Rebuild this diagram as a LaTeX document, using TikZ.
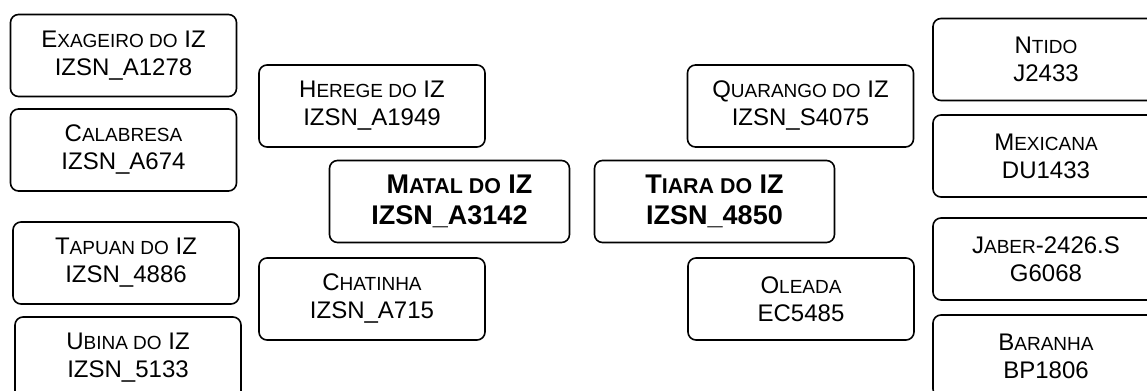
\documentclass[tikz,border=0pt]{standalone}
\usepackage{fontspec}
\setmainfont{Liberation Sans}
\newcommand{\scf}{\fontsize{9.5}{12}\selectfont}
\newcommand{\scb}{\fontsize{10.7}{13}\selectfont}
\begin{document}
\begin{tikzpicture}[x=0.5pt, y=0.5pt,
 font=\fontsize{12}{14}\selectfont,
 breed/.style={draw, line width=0.8pt, rounded corners=4pt, align=center,
 minimum width=113pt, minimum height=41pt, inner sep=1pt, outer sep=0pt},
 main/.style={breed, minimum width=120pt, font=\fontsize{13.5}{15.5}\selectfont\bfseries}]
 \useasboundingbox (0,0) rectangle (1147,391);
 \clip (0,0) rectangle (1147,391);
 \node[breed] (exageiro) at (123.5,335.5) {E{\scf XAGEIRO DO} IZ\\IZSN\_A1278};
 \node[breed] (calabresa) at (123.5,241) {C{\scf ALABRESA}\\IZSN\_A674};
 \node[breed] (tapuan) at (126,128) {T{\scf APUAN DO} IZ\\IZSN\_4886};
 \node[breed] (ubina) at (128,33) {U{\scf BINA DO} IZ\\IZSN\_5133};
 \node[breed] (herege) at (372,285) {H{\scf EREGE DO} IZ\\IZSN\_A1949};
 \node[main] (matal) at (449.5,189.5) {\hspace*{10pt}M{\scb ATAL DO} IZ\\IZSN\_A3142};
 \node[breed] (chatinha) at (372,92) {C{\scf HATINHA}\\IZSN\_A715};
 \node[breed] (quarango) at (800.5,285) {Q{\scf UARANGO DO} IZ\\IZSN\_S4075};
 \node[main] (tiara) at (714.5,189.5) {T{\scb IARA DO} IZ\\IZSN\_4850};
 \node[breed] (oleada) at (801,92) {O{\scf LEADA}\\EC5485};
 \node[breed] (ntido) at (1046,331.5) {N{\scf TIDO}\\J2433};
 \node[breed] (mexicana) at (1046,235) {M{\scf EXICANA}\\DU1433};
 \node[breed] (jaber) at (1046,132) {J{\scf ABER}-2426.S\\G6068};
 \node[breed] (baranha) at (1046,35) {B{\scf ARANHA}\\BP1806};
\end{tikzpicture}
\end{document}
